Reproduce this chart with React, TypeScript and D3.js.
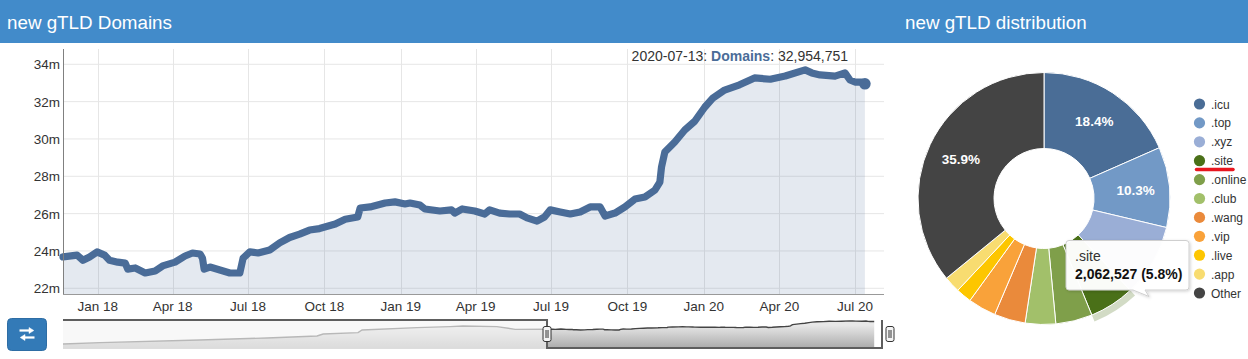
import React from "react";
import * as d3 from "d3";

// ---------- main series (new gTLD domains, millions) ----------
const lineDates = [
  "2017-11-20","2017-12-07","2017-12-14","2017-12-22","2017-12-31","2018-01-09","2018-01-15","2018-01-25",
  "2018-02-03","2018-02-06","2018-02-15","2018-02-27","2018-03-11","2018-03-20","2018-04-04","2018-04-16",
  "2018-04-25","2018-05-04","2018-05-07","2018-05-09","2018-05-16","2018-05-28","2018-06-09","2018-06-21",
  "2018-06-25","2018-07-03","2018-07-13","2018-07-27","2018-08-08","2018-08-20","2018-09-01","2018-09-13",
  "2018-09-25","2018-10-14","2018-10-26","2018-11-10","2018-11-13","2018-11-25","2018-12-13","2018-12-25",
  "2019-01-06","2019-01-12","2019-01-24","2019-01-30","2019-02-17","2019-03-03","2019-03-07","2019-03-16",
  "2019-03-31","2019-04-12","2019-04-18","2019-04-30","2019-05-12","2019-05-24","2019-06-02","2019-06-14",
  "2019-06-23","2019-06-30","2019-07-12","2019-07-24","2019-08-05","2019-08-17","2019-08-29","2019-09-04",
  "2019-09-16","2019-09-28","2019-10-10","2019-10-22","2019-11-03","2019-11-09","2019-11-11","2019-11-15",
  "2019-11-27","2019-12-09","2019-12-21","2020-01-02","2020-01-12","2020-01-26","2020-02-13","2020-03-02",
  "2020-03-21","2020-04-08","2020-05-02","2020-05-10","2020-05-20","2020-06-07","2020-06-19","2020-06-25",
  "2020-07-01","2020-07-09","2020-07-13"
];
const lineValues = [
  23.68,23.78,23.50,23.68,23.95,23.78,23.50,23.40,
  23.35,23.03,23.09,22.82,22.93,23.20,23.40,23.73,
  23.89,23.84,23.62,23.03,23.14,22.98,22.82,22.82,
  23.62,23.95,23.89,24.05,24.43,24.72,24.90,25.12,
  25.20,25.44,25.70,25.82,26.30,26.36,26.57,26.63,
  26.52,26.57,26.46,26.25,26.14,26.20,26.03,26.25,
  26.14,25.98,26.20,26.03,25.98,25.98,25.77,25.60,
  25.82,26.20,26.09,25.98,26.09,26.36,26.36,25.87,
  26.03,26.36,26.78,26.89,27.26,27.69,28.50,29.30,
  29.84,30.48,30.95,31.70,32.20,32.62,32.90,33.27,
  33.20,33.37,33.70,33.54,33.43,33.37,33.54,33.16,
  33.05,33.05,32.954751
];

// ---------- navigator history before the zoomed range (millions) ----------
const navHistoryDates = [
  "2013-12-22","2014-04-10","2015-01-30","2015-08-16","2016-01-11","2016-01-29","2016-05-11",
  "2016-05-23","2016-11-01","2017-02-07","2017-03-17","2017-06-25","2017-08-18"
];
const navHistoryValues = [6.0,7.6,10.8,13.2,15.6,18.0,19.6,22.8,25.6,26.8,27.6,26.8,23.6];

// ---------- axes ----------
const xTickDates = ["2018-01-01","2018-04-01","2018-07-01","2018-10-01","2019-01-01","2019-04-01",
  "2019-07-01","2019-10-01","2020-01-01","2020-04-01","2020-07-01"];
const xTickLabels = ["Jan 18","Apr 18","Jul 18","Oct 18","Jan 19","Apr 19","Jul 19","Oct 19","Jan 20","Apr 20","Jul 20"];
const yTickValues = [22,24,26,28,30,32,34];
const yTickLabels = ["22m","24m","26m","28m","30m","32m","34m"];

// ---------- distribution ----------
const tlds = [".icu",".top",".xyz",".site",".online",".club",".wang",".vip",".live",".app","Other"];
const tldDomains = [6543000,3663000,3307000,2062527,1671000,1387000,1422000,1280000,711000,747000,12766000];
const tldColors = ["#4a6d96","#7299c6","#9aaed6","#4a7018","#7f9f4a","#a2c06a","#ea8a3b","#f9a23a","#fdc600","#f8dc70","#444444"];
const hoveredTld = ".site";

const FONT = '"Liberation Sans", Arial, Helvetica, sans-serif';

export default function App() {
  const parse = d3.timeParse("%Y-%m-%d");
  const W = 1248, H = 359;
  const plot = { left: 63, right: 884, top: 49, bottom: 294 };

  const x = d3.scaleTime()
    .domain([parse("2017-11-20") as Date, parse("2020-08-05") as Date])
    .range([plot.left, plot.right]);
  const y = d3.scaleLinear().domain([22, 34]).range([288.3, 64.3]);

  const pts = lineDates.map((d, i) => ({ date: parse(d) as Date, v: lineValues[i] }));
  const line = d3.line<any>().x((p) => x(p.date)).y((p) => y(p.v));
  const area = d3.area<any>().x((p) => x(p.date)).y0(plot.bottom).y1((p) => y(p.v));
  const last = pts[pts.length - 1];

  // navigator
  const nav = { left: 63, right: 882, top: 319, bottom: 349 };
  const nx = d3.scaleTime()
    .domain([parse("2013-12-22") as Date, parse("2020-08-05") as Date])
    .range([nav.left, nav.right]);
  const ny = d3.scaleLinear().domain([0, 36]).range([nav.bottom, nav.top]);
  const navPts = navHistoryDates
    .map((d, i) => ({ date: parse(d) as Date, v: navHistoryValues[i] }))
    .concat(pts);
  const navLine = d3.line<any>().x((p) => nx(p.date)).y((p) => ny(p.v));
  const navArea = d3.area<any>().x((p) => nx(p.date)).y0(nav.bottom).y1((p) => ny(p.v));
  const selStart = nx(pts[0].date);
  const selEnd = nav.right;

  // pie
  const cx = 1044, cy = 198.5, rO = 126, rI = 50;
  const total = d3.sum(tldDomains);
  const pieArcs = d3.pie<number>().sort(null).value((d) => d)(tldDomains);
  const arc = d3.arc<any>().innerRadius(rI).outerRadius(rO);
  const labelArc = d3.arc<any>().innerRadius(92).outerRadius(92);
  const haloArc = d3.arc<any>().innerRadius(rO).outerRadius(rO + 7);
  const hi = tlds.indexOf(hoveredTld);
  const fmt = d3.format(",");

  const legendX = 1199.5, legendY0 = 104, legendStep = 18.9;

  return (
    <svg width={W} height={H} style={{ position: "absolute", left: 0, top: 0, display: "block" }}
      fontFamily={FONT}>
      <defs>
        <linearGradient id="navGrad" gradientUnits="userSpaceOnUse" x1="0" y1={nav.top + 6} x2="0" y2={nav.bottom}>
          <stop offset="0" stopColor="#e8e8e8" />
          <stop offset="1" stopColor="#a9a9a9" />
        </linearGradient>
        <filter id="tipShadow" x="-20%" y="-20%" width="140%" height="150%">
          <feDropShadow dx="1" dy="1" stdDeviation="1.5" floodColor="#000" floodOpacity="0.18" />
        </filter>
      </defs>
      <rect x={0} y={0} width={W} height={H} fill="#fff" />

      {/* header */}
      <rect x={0} y={0} width={W} height={43} fill="#428bca" />
      <text x={7} y={28.5} fill="#fff" fontSize={18.8}>new gTLD Domains</text>
      <text x={905} y={28.5} fill="#fff" fontSize={18.8}>new gTLD distribution</text>

      {/* grid */}
      {yTickValues.map((v) => (
        <line key={"gy" + v} x1={plot.left} x2={plot.right} y1={y(v)} y2={y(v)} stroke="#e6e6e6" />
      ))}
      {xTickDates.map((d) => {
        const xx = Math.round(x(parse(d) as Date)) + 0.5;
        return <line key={"gx" + d} x1={xx} x2={xx} y1={plot.top} y2={plot.bottom} stroke="#e6e6e6" />;
      })}

      {/* series */}
      <path d={area(pts) as string} fill="rgba(74,108,152,0.15)" />
      <path d={line(pts) as string} fill="none" stroke="#4a6c98" strokeWidth={7.2}
        strokeLinejoin="round" strokeLinecap="round" />
      <circle cx={x(last.date)} cy={y(last.v)} r={5.8} fill="#4a6c98" />

      {/* axes */}
      <line x1={plot.left + 0.5} x2={plot.left + 0.5} y1={plot.top} y2={plot.bottom} stroke="#808080" />
      <line x1={plot.left} x2={plot.right} y1={plot.bottom + 0.5} y2={plot.bottom + 0.5} stroke="#999" />
      {yTickValues.map((v, i) => (
        <text key={"yl" + v} x={60} y={y(v) + 5} textAnchor="end" fontSize={13.5} fill="#333">{yTickLabels[i]}</text>
      ))}
      {xTickDates.map((d, i) => (
        <text key={"xl" + d} x={x(parse(d) as Date)} y={311} textAnchor="middle" fontSize={13.5} fill="#333">
          {xTickLabels[i]}
        </text>
      ))}

      {/* top-right readout */}
      <text x={848} y={61} textAnchor="end" fontSize={14} fill="#333">
        {d3.timeFormat("%Y-%m-%d")(last.date)}: <tspan fill="#4a6c98" fontWeight="bold">Domains</tspan>: {fmt(Math.round(last.v * 1e6))}
      </text>

      {/* button */}
      <rect x={7.5} y={318.5} width={39} height={32} rx={4} fill="#337ab7" stroke="#2e6da4" />
      <g fill="#fff" stroke="#fff">
        <line x1={19.5} x2={30} y1={330.5} y2={330.5} strokeWidth={2.2} />
        <path d="M29,327.5 L33.8,330.5 L29,333.5 Z" strokeWidth={0.5} />
        <line x1={24} x2={34.5} y1={337.5} y2={337.5} strokeWidth={2.2} />
        <path d="M25,334.5 L20.2,337.5 L25,340.5 Z" strokeWidth={0.5} />
      </g>

      {/* navigator */}
      <rect x={nav.left} y={nav.top} width={nav.right - nav.left} height={nav.bottom - nav.top} fill="#fff" />
      <path d={navArea(navPts) as string} fill="url(#navGrad)" />
      <path d={navLine(navPts) as string} fill="none" stroke="#444" strokeWidth={1.4} />
      <rect x={nav.left} y={nav.top} width={selStart - nav.left} height={nav.bottom - nav.top}
        fill="rgba(245,245,245,0.66)" />
      <line x1={nav.left} x2={selStart} y1={nav.bottom - 0.5} y2={nav.bottom - 0.5} stroke="#ddd" />
      <path d={`M${nav.left},${nav.top + 1} H${selStart} V${nav.bottom - 1} H${selEnd} V${nav.top + 1}`}
        fill="none" stroke="#5e5e5e" strokeWidth={2} />
      {[selStart, selEnd + 8].map((hx, i) => (
        <g key={"h" + i}>
          <rect x={hx - 4} y={326.5} width={8} height={15} rx={2} fill="#f4f4f4" stroke="#333" />
          <line x1={hx - 1} x2={hx - 1} y1={330} y2={338} stroke="#333" />
          <line x1={hx + 1} x2={hx + 1} y1={330} y2={338} stroke="#333" />
        </g>
      ))}

      {/* pie */}
      <g transform={`translate(${cx},${cy})`}>
        {hi >= 0 && (
          <path d={haloArc(pieArcs[hi]) as string} fill={tldColors[hi]} fillOpacity={0.25} />
        )}
        {pieArcs.map((a, i) => (
          <path key={"s" + i} d={arc(a) as string} fill={tldColors[i]} stroke="#fff" strokeWidth={1} />
        ))}
        {pieArcs.map((a, i) => {
          const pct = (tldDomains[i] / total) * 100;
          if (pct < 10) return null;
          const [lx, ly] = labelArc.centroid(a);
          return (
            <text key={"pl" + i} x={lx} y={ly + 5} textAnchor="middle" fontSize={13.5} fontWeight="bold" fill="#fff">
              {pct.toFixed(1)}%
            </text>
          );
        })}
      </g>

      {/* legend */}
      {tlds.map((t, i) => (
        <g key={"lg" + t}>
          <circle cx={legendX} cy={legendY0 + i * legendStep} r={5.6} fill={tldColors[i]} />
          <text x={1211} y={legendY0 + i * legendStep + 4.5} fontSize={12} fill="#333">{t}</text>
        </g>
      ))}
      <line x1={1196.5} x2={1233} y1={169.5} y2={169.5} stroke="#e8161f" strokeWidth={3.5} strokeLinecap="round" />

      {/* tooltip */}
      {hi >= 0 && (
        <g>
          <path filter="url(#tipShadow)"
            d="M1069,240.5 H1186 Q1189,240.5 1189,243.5 V287 Q1189,290 1186,290 H1145 L1149,296.5 L1133,290 H1069 Q1066,290 1066,287 V243.5 Q1066,240.5 1069,240.5 Z"
            fill="rgba(255,255,255,0.97)" stroke="#cfcfcf" strokeWidth={1} />
          <text x={1075} y={261} fontSize={14} fill="#333">{tlds[hi]}</text>
          <text x={1075} y={278.5} fontSize={14} fontWeight="bold" fill="#111">
            {fmt(tldDomains[hi])} ({((tldDomains[hi] / total) * 100).toFixed(1)}%)
          </text>
        </g>
      )}
    </svg>
  );
}
